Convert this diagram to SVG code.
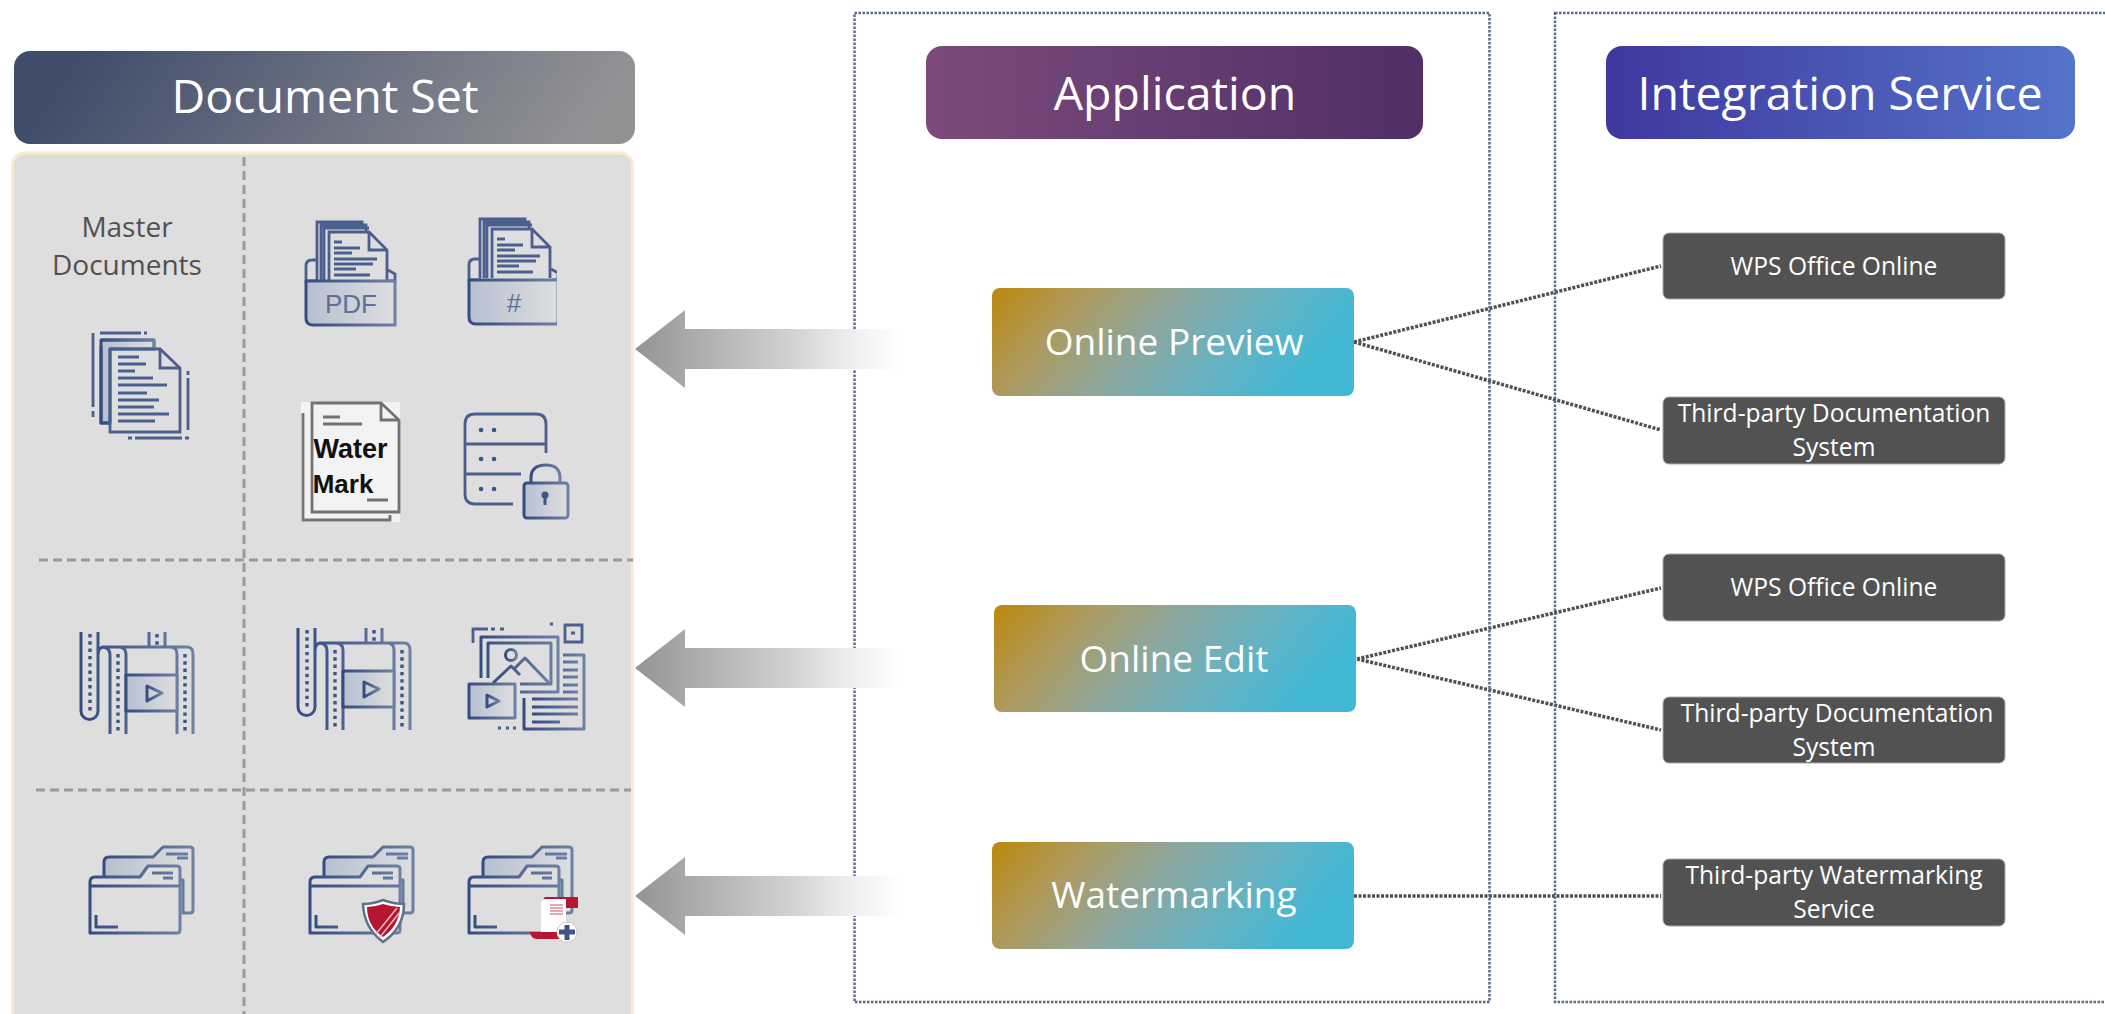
<svg xmlns="http://www.w3.org/2000/svg" xmlns:xlink="http://www.w3.org/1999/xlink" width="2105" height="1014" viewBox="0 0 2105 1014">
<style>
text{font-family:"Open Sans","Noto Sans","Liberation Sans",sans-serif;text-anchor:middle}
.hd{fill:#fff;font-size:46.500px}
.nd{fill:#fff;font-size:37px}
.sv{fill:#fff;font-size:24.600px}
.grey{fill:#525252;stroke:#a8a8a8;stroke-width:1}
.zone{fill:none;stroke:#5a6785;stroke-width:2.500;stroke-dasharray:2.500 1.500}
.app{fill:url(#gNode)}
.dash{fill:none;stroke:#9a9a9a;stroke-width:3;stroke-dasharray:9 5}
.con{fill:none;stroke:#505050;stroke-width:3.500;stroke-dasharray:3 1.500}
.i{fill:none;stroke:url(#gIcon);stroke-width:3;stroke-linejoin:round;stroke-linecap:butt}
.if{fill:url(#gFill);stroke:url(#gIcon);stroke-width:3;stroke-linejoin:round}
.dk{fill:none;stroke:#4a5f8e;stroke-width:2.800}
.pd{fill:none;stroke:#3f5585;stroke-width:3.400;stroke-dasharray:3.400 3.900}
.wm{fill:none;stroke:#737373;stroke-width:2.800}
</style>
<defs>
<linearGradient id="gDoc" x1="0" y1="0" x2="1" y2="0.1"><stop offset="0.1" stop-color="#3f4c6b"/><stop offset="1" stop-color="#929295"/></linearGradient>
<linearGradient id="gApp"><stop offset="0" stop-color="#7c4a7c"/><stop offset="1" stop-color="#4f2f66"/></linearGradient>
<linearGradient id="gInt"><stop offset="0" stop-color="#3f389e"/><stop offset="1" stop-color="#5473ca"/></linearGradient>
<linearGradient id="gNode" x1="0" y1="0" x2="1" y2="0.25"><stop offset="0" stop-color="#bb880c"/><stop offset="0.25" stop-color="#ae9a5e"/><stop offset="0.5" stop-color="#8da79e"/><stop offset="0.75" stop-color="#67b2c2"/><stop offset="1" stop-color="#42b8d4"/></linearGradient>
<linearGradient id="gArrow" gradientUnits="userSpaceOnUse" x1="634" y1="0" x2="900" y2="0"><stop offset="0" stop-color="#939393"/><stop offset="0.25" stop-color="#aeaeae"/><stop offset="0.62" stop-color="#d5d5d5"/><stop offset="0.81" stop-color="#eeeeee"/><stop offset="1" stop-color="#ffffff"/></linearGradient>
<linearGradient id="gIcon" x1="0" y1="0" x2="1" y2="0"><stop offset="0" stop-color="#354c82"/><stop offset="1" stop-color="#6d80a5"/></linearGradient>
<linearGradient id="gFill"><stop offset="0" stop-color="#b7bfd0"/><stop offset="1" stop-color="#dedede"/></linearGradient>
<path id="arrow" d="M635 0L685 -39V-20H900V20H685V39Z" fill="url(#gArrow)"/>
<clipPath id="cHash"><rect x="460" y="200" width="97" height="140"/></clipPath>
<g id="pages">
<path class="dk" d="M317 281V222H362V228M321 281V225H366V231M324 281V228H369"/>
<path class="dk" d="M329 281V232H369L387 250V281M369 232V250H387"/>
<path class="dk" d="M334 242H342M334 248H360M334 253H352M334 259H377M334 264H373M334 269H356M334 275H370"/>
</g>
<g id="tray">
<path class="dk" d="M318 281H306V266Q306 260 312 260H316M389 281H395V274L388 270"/>
<path class="if" d="M306 281H395V325H313Q306 325 306 318Z"/>
</g>
<g id="film">
<path class="i" d="M298 628V707A8.500 8.500 0 0 0 315 707V628M315 651Q315 643 321 643H404Q410 643 410 650V730M327 730V651Q327 643 319 643M343 730V650Q343 643 335 643M394 730V650Q394 643 387 643M366 643V628M382 643V628"/>
<rect class="if" x="343" y="671" width="51" height="36"/>
<path class="i" d="M364 682L379 689L364 697Z"/>
<path class="pd" d="M307 630V710M335 650V730M402 650V730M374 630V643"/>
</g>
<g id="folder">
<path class="if" d="M324 880V862Q324 857 329 857H373L383 847H410Q413 847 413 850V910Q413 913 410 913H403V880Z"/>
<path style="fill:#dedede" class="i" d="M310 933V882Q310 877 315 877H360L368 866H397Q400 866 400 869V930Q400 933 397 933Z"/>
<path class="i" d="M310 886H400M316 915V927H338M386 854H408M397 858H408M372 873H393M383 878H393"/>
</g>
</defs>

<g id="connectors">
<path class="con" d="M1354 342L1661 266M1354 342L1661 430M1357 659L1661 588M1357 659L1661 730M1354 896H1661"/>
</g>

<g id="zone-application"><rect class="zone" x="854.500" y="13" width="635" height="989"/></g>
<g id="zone-integration"><rect class="zone" x="1555" y="13" width="570" height="989"/></g>

<g id="arrows">
<use xlink:href="#arrow" href="#arrow" y="349"/>
<use xlink:href="#arrow" href="#arrow" y="668"/>
<use xlink:href="#arrow" href="#arrow" y="896"/>
</g>

<g id="document-set">
<rect x="12.500" y="153" width="620" height="880" rx="12" fill="#dedede" stroke="#fbeccb" stroke-width="3"/>
<path class="dash" d="M244 157V1014M39 560H633M36 790H631"/>
<rect x="14" y="51" width="621" height="93" rx="16" fill="url(#gDoc)"/>
<text class="hd" x="325" y="113">Document Set</text>
<text x="127" y="237" font-size="28" fill="#505050">Master</text>
<text x="127" y="275" font-size="28" fill="#505050">Documents</text>
</g>

<g id="icon-master">
<path class="if" d="M101 423V340H154V349H110V423Z" stroke="none"/>
<path class="i" d="M101 346V423H110M101 340H154V349"/>
<path class="dk" d="M110 349H160L180 368V432H110Z"/>
<path class="dk" d="M160 349V368H180M93 333V407M93 411V417M100 333H141M144 333H147M135 438H182M128 438H132M185 438H189M188 378V430M188 371V375"/>
<path class="dk" d="M118 357H139M118 364H146M118 371H135M118 378H153M118 385H167M118 393H147M118 400H159M118 407H154M118 414H169M118 421H155"/>
</g>

<g id="icon-pdf">
<use xlink:href="#pages" href="#pages"/>
<use xlink:href="#tray" href="#tray"/>
<text x="351" y="313" font-size="26" fill="#5a7099" style="font-family:'Liberation Sans',sans-serif">PDF</text>
</g>
<g id="icon-hash" clip-path="url(#cHash)">
<use xlink:href="#pages" href="#pages" x="163" y="-3"/>
<use xlink:href="#tray" href="#tray" x="163" y="-1"/>
<text x="514" y="312" font-size="26" fill="#5a7099" style="font-family:'Liberation Sans',sans-serif">#</text>
</g>

<g id="icon-watermark">
<rect x="301" y="402" width="99" height="120" fill="#f3f3f3"/>
<path class="wm" d="M312 403H381L399 420V512H312ZM381 403V420H399M303 413V520H390V515"/>
<path class="wm" d="M323 417H340M323 424H362M367 500H388"/>
<text x="350.500" y="458" font-size="27" font-weight="700" fill="#111" style="font-family:'Liberation Sans',sans-serif">Water</text>
<text x="343" y="493" font-size="26" font-weight="700" fill="#111" style="font-family:'Liberation Sans',sans-serif">Mark</text>
</g>

<g id="icon-server">
<path class="dk" d="M546 453V424Q546 414 536 414H475Q465 414 465 424V494Q465 504 475 504H513M465 444H546M465 474H521"/>
<path d="M481 430h.1M494 430h.1M481 459h.1M494 459h.1M481 489h.1M494 489h.1" stroke="#3f5585" stroke-width="4.500" stroke-linecap="round" fill="none"/>
<rect class="if" x="524" y="483" width="44" height="35" rx="3"/>
<path class="i" d="M531 483V478Q531 465 546 465Q560 465 560 478V483"/>
<path d="M545 495V505" stroke="#3f5585" stroke-width="3" fill="none"/><circle cx="545" cy="495" r="3.500" fill="#3f5585"/>
</g>

<use id="icon-film-1" xlink:href="#film" href="#film" x="-217" y="4"/>
<use id="icon-film-2" xlink:href="#film" href="#film"/>

<g id="icon-media">
<path class="dk" d="M473 643V629H488M491 629H495M500 629H504M550 624h3M565 625H582V642H565ZM571 633h4"/>
<path class="i" d="M481 678V637H558V692H520M488 678V643H551V684H520"/>
<circle class="i" cx="511" cy="655" r="5.500"/>
<path class="i" d="M493 683L511 666L520 675M515 668L525 658L549 683"/>
<rect class="if" x="469" y="684" width="46" height="34"/>
<path class="i" d="M487 695L499 701L487 707Z"/>
<path class="i" d="M563 655H584V729H524V698"/>
<path class="i" d="M563 662H578M563 670H578M563 677H578M563 685H578M563 692H578M532 699H578M532 707H578M532 714H578M532 722H560"/>
<path class="dk" d="M498 728h3M506 728h3M513 728h3"/>
</g>

<use id="icon-folder-1" xlink:href="#folder" href="#folder" x="-220"/>
<g id="icon-folder-shield">
<use xlink:href="#folder" href="#folder"/>
<path d="M383 900Q394 904 404 904Q404 928 383 942Q364 928 363 904Q373 904 383 900Z" fill="#fff" stroke="#5f6f8c" stroke-width="2.500"/>
<path d="M383 904Q392 907 400 907Q399 926 383 937Q367 926 367 907Q375 907 383 904Z" fill="#b4172f"/>
<path d="M397 908L376 934M400 912L380 937" stroke="#e8b8c0" stroke-width="1.500" fill="none"/>
</g>
<g id="icon-folder-doc">
<use xlink:href="#folder" href="#folder" x="159"/>
<path d="M545 897H578V908H566V932H560V939H537Q531 939 530 932H541V902Z" fill="#b4172f"/>
<path d="M541 932V903Q541 899 545 899H566V932Z" fill="#fff"/>
<path d="M550 905H563M550 908H563M550 911H563M550 914H563" stroke="#e48a9a" stroke-width="1.500" fill="none"/>
<circle cx="567" cy="932" r="10" fill="#fff" stroke="#ccc"/>
<path d="M567 925V940M559 932H575" stroke="#3f5585" stroke-width="5" fill="none"/>
</g>

<g id="app-header"><rect x="926" y="46" width="497" height="93" rx="16" fill="url(#gApp)"/><text class="hd" x="1175" y="110">Application</text></g>
<g id="int-header"><rect x="1606" y="46" width="469" height="93" rx="16" fill="url(#gInt)"/><text class="hd" x="1840" y="110">Integration Service</text></g>

<g id="online-preview"><rect class="app" x="992" y="288" width="362" height="108" rx="8"/><text class="nd" x="1174" y="355">Online Preview</text></g>
<g id="online-edit"><rect class="app" x="994" y="605" width="362" height="107" rx="8"/><text class="nd" x="1174" y="672">Online Edit</text></g>
<g id="watermarking"><rect class="app" x="992" y="842" width="362" height="107" rx="8"/><text class="nd" x="1174" y="908">Watermarking</text></g>

<g id="svc-wps-1"><rect class="grey" x="1663" y="233" width="342" height="66" rx="6"/><text class="sv" x="1834" y="275">WPS Office Online</text></g>
<g id="svc-doc-1"><rect class="grey" x="1663" y="397" width="342" height="67" rx="6"/><text class="sv" x="1834" y="422">Third-party Documentation</text><text class="sv" x="1834" y="456">System</text></g>
<g id="svc-wps-2"><rect class="grey" x="1663" y="554" width="342" height="67" rx="6"/><text class="sv" x="1834" y="596">WPS Office Online</text></g>
<g id="svc-doc-2"><rect class="grey" x="1663" y="697" width="342" height="66" rx="6"/><text class="sv" x="1837" y="722">Third-party Documentation</text><text class="sv" x="1834" y="756">System</text></g>
<g id="svc-wm"><rect class="grey" x="1663" y="859" width="342" height="67" rx="6"/><text class="sv" x="1834" y="884">Third-party Watermarking</text><text class="sv" x="1834" y="918">Service</text></g>
</svg>
